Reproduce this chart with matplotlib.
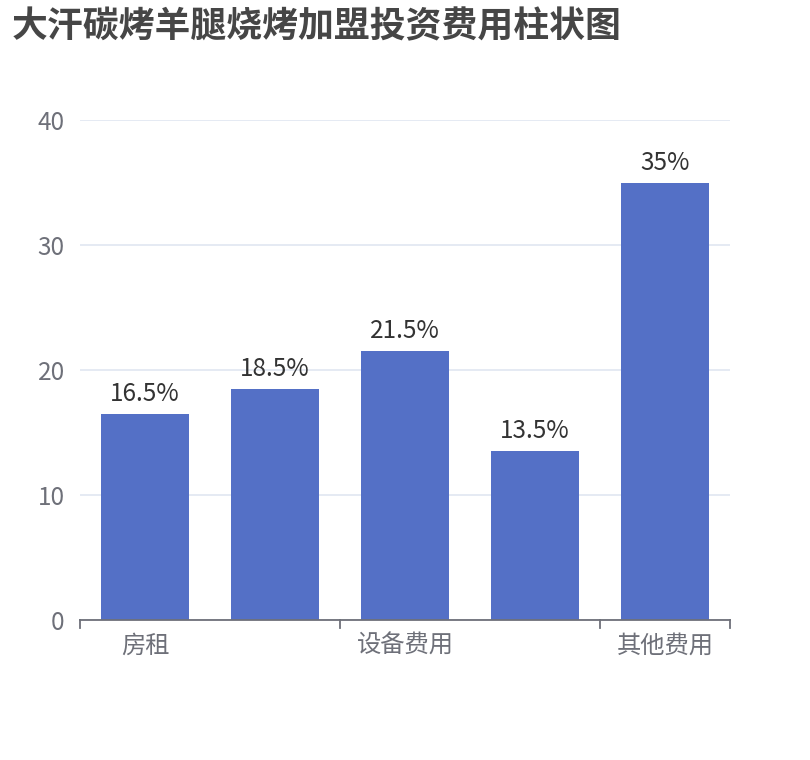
import matplotlib
matplotlib.use("Agg")
import matplotlib.pyplot as plt
import numpy as np

categories = ["房租", "加盟费用", "设备费用", "装修费用", "其他费用"]
values = [16.5, 18.5, 21.5, 13.5, 35]
labels = ["16.5%", "18.5%", "21.5%", "13.5%", "35%"]
yticks = [0, 10, 20, 30, 40]

plt.rcParams['font.family'] = ['Noto Sans CJK SC', 'DejaVu Sans']

W, H = 810, 760
fig = plt.figure(figsize=(W/100, H/100), dpi=100)
ax = fig.add_axes([80/W, (H-620)/H, 650/W, 500/H])

x = np.arange(len(categories))
ax.bar(x, values, width=0.68, color="#5470C6", zorder=3)
for xi, v, lab in zip(x, values, labels):
    ax.annotate(lab, (xi, v), xytext=(0, 5), textcoords="offset points",
                ha="center", va="bottom", fontsize=17.5, color="#333333", zorder=4)

ax.set_xlim(-0.5, len(categories) - 0.5)
ax.set_ylim(0, 40)
ax.set_yticks(yticks)
ax.set_yticklabels([str(t) for t in yticks], fontsize=17.5, color="#6E7079")
ax.yaxis.grid(True, color="#E0E6F1", linewidth=1.2, zorder=0)
ax.tick_params(axis="y", length=0, pad=11)

# category labels every other
shown = [0, 2, 4]
ax.set_xticks(shown)
ax.set_xticklabels([categories[i] for i in shown], fontsize=17.5, color="#6E7079")
ax.tick_params(axis="x", length=0, pad=9)
# boundary ticks
for b in [-0.5, 1.5, 3.5, 4.5]:
    ax.plot([b, b], [0, -0.016], transform=ax.get_xaxis_transform(), color="#6E7079",
            linewidth=1.3, clip_on=False, zorder=5)

for s in ["top", "right", "left"]:
    ax.spines[s].set_visible(False)
ax.spines["bottom"].set_color("#6E7079")
ax.spines["bottom"].set_linewidth(1.3)
ax.spines["bottom"].set_zorder(5)

fig.text(12/W, 1 - 27/H, "大汗碳烤羊腿烧烤加盟投资费用柱状图", fontsize=25.8, fontweight="bold",
         color="#464646", ha="left", va="center")

fig.savefig("out.png", dpi=100)
